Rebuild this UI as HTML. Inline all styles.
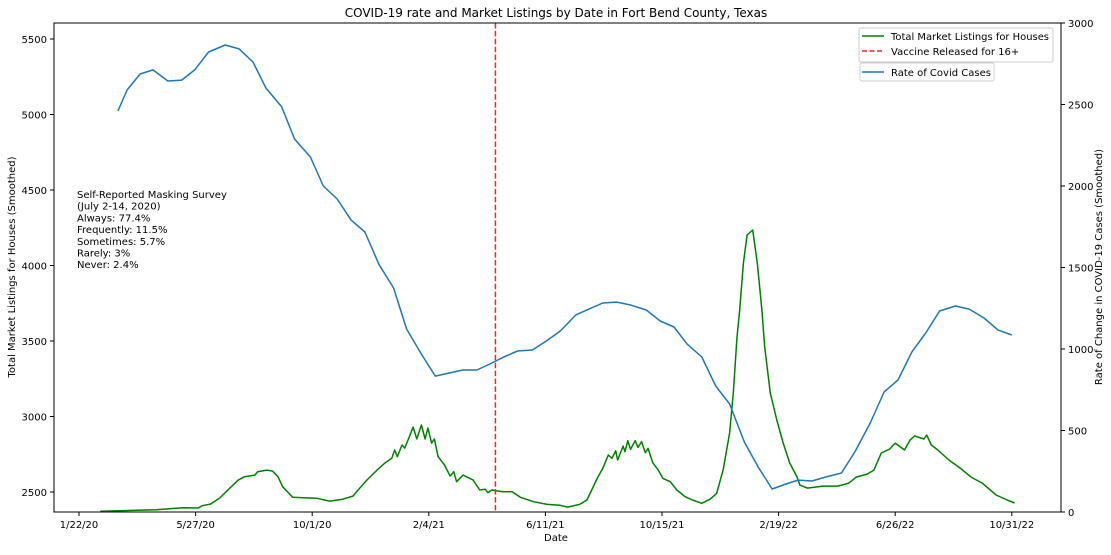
<!DOCTYPE html>
<html><head><meta charset="utf-8"><style>
body{margin:0;background:#fff;font-family:"Liberation Sans","DejaVu Sans",sans-serif}
svg text{font-family:"DejaVu Sans","Liberation Sans",sans-serif}
</style></head><body>
<svg id="chart" width="1111" height="550" xmlns="http://www.w3.org/2000/svg"></svg>
<script>
const xTickLabels=["1/22/20","5/27/20","10/1/20","2/4/21","6/11/21","10/15/21","2/19/22","6/26/22","10/31/22"];
const xTickDays=[0,126,252,378,504,630,756,882,1008];
const leftTicks=[2500,3000,3500,4000,4500,5000,5500];
const rightTicks=[0,500,1000,1500,2000,2500,3000];
const vaccineDay=450;
const covidDays=[42,52,66,80,96,111,125,140,158,173,188,202,219,233,250,264,279,294,309,324,340,354,370,385,400,415,430,444,459,474,490,505,520,537,551,566,581,596,613,628,643,657,673,688,703,719,734,749,764,777,792,807,824,839,855,870,885,900,915,930,947,962,978,993,1008];
const covidRates=[2460,2589,2687,2712,2644,2650,2712,2822,2865,2841,2761,2601,2485,2288,2178,2000,1920,1791,1718,1521,1374,1123,969,834,853,871,871,908,951,988,994,1049,1110,1209,1245,1282,1288,1270,1239,1172,1135,1031,951,773,663,429,276,141,172,196,190,215,239,374,546,736,810,982,1098,1233,1264,1245,1190,1117,1086];
const listDays=[23,84,112,129,133,142,152,163,172,179,190,193,203,209,215,220,231,242,257,271,285,296,300,311,322,331,338,341,344,349,352,357,361,365,370,374,377,381,384,388,395,401,405,408,415,426,433,439,442,446,458,468,477,491,506,520,528,541,549,554,560,566,572,576,580,582,588,590,593,596,601,604,608,612,615,620,626,631,639,646,655,663,673,682,689,696,703,707,711,714,718,722,728,733,738,741,747,754,761,768,776,779,787,804,820,832,840,852,859,867,876,882,892,898,903,913,916,921,928,940,952,964,976,991,1003,1011];
const listValues=[2372,2383,2396,2394,2409,2420,2460,2526,2579,2601,2612,2634,2645,2639,2601,2535,2465,2462,2458,2440,2452,2473,2502,2579,2645,2694,2723,2778,2734,2811,2791,2866,2930,2851,2944,2851,2924,2824,2851,2734,2679,2606,2634,2568,2612,2579,2513,2518,2495,2513,2502,2502,2465,2436,2418,2412,2400,2418,2447,2513,2590,2657,2745,2723,2773,2712,2804,2767,2840,2783,2840,2796,2833,2760,2789,2694,2645,2590,2568,2513,2469,2447,2425,2452,2491,2645,2891,3155,3526,3705,4016,4202,4235,4016,3705,3460,3155,2977,2824,2692,2599,2546,2526,2539,2539,2559,2599,2619,2645,2758,2785,2824,2778,2844,2871,2851,2877,2811,2778,2712,2659,2599,2559,2480,2447,2427];

const L=54,R=1061,T=23,B=512;
const X0=79,PXD=0.9254;
const x=d=>X0+d*PXD;
const yL=v=>39+(5500-v)*0.1510;
const yR=v=>B-v*(B-T)/3000;
const svg=document.getElementById('chart');
const NS='http://www.w3.org/2000/svg';
function mk(tag,attrs,parent){const e=document.createElementNS(NS,tag);for(const k in attrs)e.setAttribute(k,attrs[k]);(parent||svg).appendChild(e);return e;}
function txt(s,attrs,parent){const e=mk('text',attrs,parent);e.textContent=s;return e;}

let t=txt('COVID-19 rate and Market Listings by Date in Fort Bend County, Texas',{x:556,y:17,'text-anchor':'middle','font-size':12});



let gp=listDays.map((d,i)=>(i?'L':'M')+x(d).toFixed(1)+','+yL(listValues[i]).toFixed(1)).join('');
let g=mk('path',{d:gp,fill:'none',stroke:'#008000','stroke-width':1.5,'stroke-linejoin':'round'});



let v=mk('line',{x1:x(vaccineDay),x2:x(vaccineDay),y1:T,y2:B,stroke:'#ff2020','stroke-width':1.5,'stroke-dasharray':'5.5,2.4'});



let bp=covidDays.map((d,i)=>(i?'L':'M')+x(d).toFixed(1)+','+yR(covidRates[i]).toFixed(1)).join('');
let b=mk('path',{d:bp,fill:'none',stroke:'#1f77b4','stroke-width':1.5,'stroke-linejoin':'round'});



let fr=mk('rect',{x:L,y:T,width:R-L,height:B-T,fill:'none',stroke:'#000','stroke-width':1});



xTickDays.forEach((d,i)=>{
  let tk=mk('line',{x1:x(d),x2:x(d),y1:B,y2:B+4,stroke:'#000'});
  
  
  let lb=txt(xTickLabels[i],{x:x(d),y:B+16,'text-anchor':'middle','font-size':10});
  
  
});
leftTicks.forEach(vv=>{
  let tk=mk('line',{x1:L-4,x2:L,y1:yL(vv),y2:yL(vv),stroke:'#000'});
  
  
  let lb=txt(String(vv),{x:L-7,y:yL(vv)+4,'text-anchor':'end','font-size':10});
  
  
});
rightTicks.forEach(vv=>{
  let tk=mk('line',{x1:R,x2:R+4,y1:yR(vv),y2:yR(vv),stroke:'#000'});
  
  
  let lb=txt(String(vv),{x:R+7,y:yR(vv)+4,'font-size':10});
  
  
});
t=txt('Date',{x:556,y:541,'text-anchor':'middle','font-size':10});


t=txt('Total Market Listings for Houses (Smoothed)',{x:0,y:0,'text-anchor':'middle','font-size':10,transform:'translate(15,267) rotate(-90)'});


t=txt('Rate of Change in COVID-19 Cases (Smoothed)',{x:0,y:0,'text-anchor':'middle','font-size':10,transform:'translate(1102,267) rotate(-90)'});



const notes=['Self-Reported Masking Survey','(July 2-14, 2020)','Always: 77.4%','Frequently: 11.5%','Sometimes: 5.7%','Rarely: 3%','Never: 2.4%'];
let ann=mk('g',{});


notes.forEach((s,i)=>{txt(s,{x:77,y:198+i*11.7,'font-size':10},ann);});

let lg=mk('g',{});


mk('rect',{x:859,y:28,width:194,height:34,rx:2,fill:'#fff','fill-opacity':0.8,stroke:'#ccc'},lg);
mk('line',{x1:862,x2:884,y1:36,y2:36,stroke:'#008000','stroke-width':1.5},lg);
txt('Total Market Listings for Houses',{x:891,y:40,'font-size':10,textLength:158,lengthAdjust:'spacingAndGlyphs'},lg);
mk('line',{x1:862,x2:884,y1:51,y2:51,stroke:'#ff2020','stroke-width':1.5,'stroke-dasharray':'5,2.5'},lg);
txt('Vaccine Released for 16+',{x:891,y:55,'font-size':10},lg);
let lg2=mk('g',{});


mk('rect',{x:860,y:63,width:134,height:18,rx:2,fill:'#fff','fill-opacity':0.8,stroke:'#ccc'},lg2);
mk('line',{x1:862,x2:884,y1:72,y2:72,stroke:'#1f77b4','stroke-width':1.5},lg2);
txt('Rate of Covid Cases',{x:891,y:76,'font-size':10},lg2);
</script>
</body></html>
